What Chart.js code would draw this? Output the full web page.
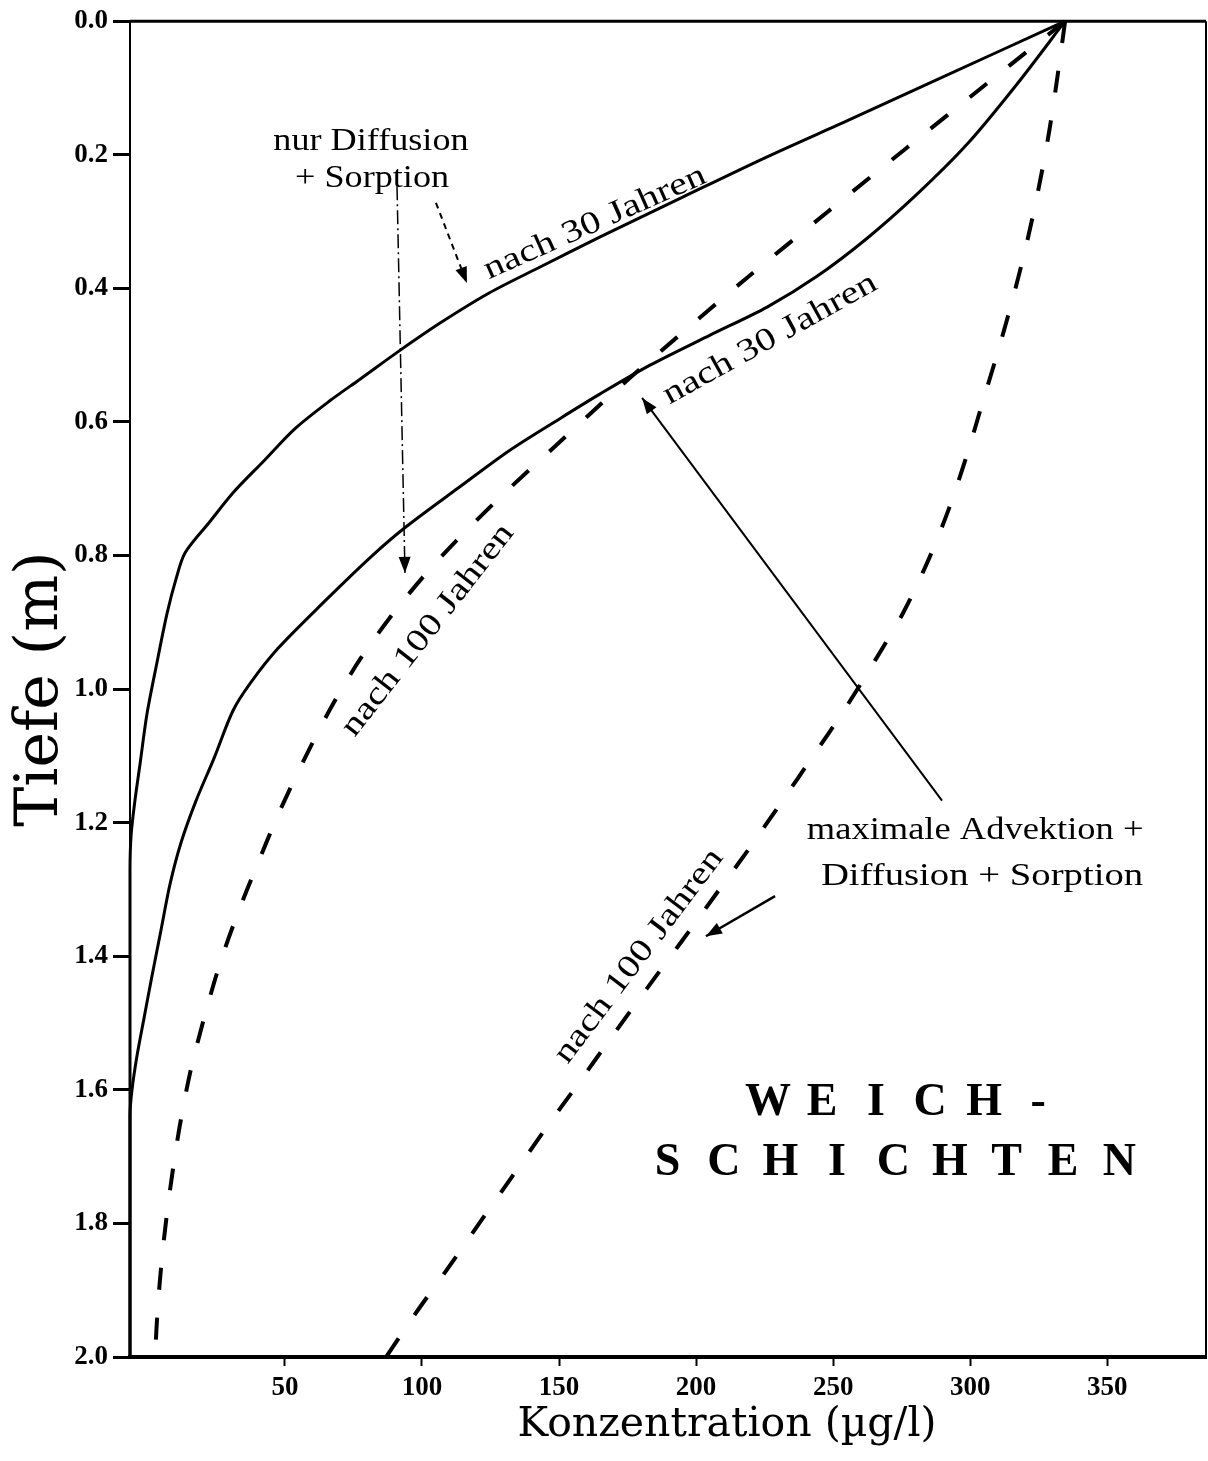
<!DOCTYPE html>
<html>
<head>
<meta charset="utf-8">
<script src="https://cdn.jsdelivr.net/npm/chart.js@4.4.1/dist/chart.umd.min.js"></script>
<style>
  html, body { margin: 0; background: #fff; }
  #wrap { width: 1208px; height: 1461px; position: relative; }
</style>
</head>
<body>
<div id="wrap"><canvas id="profilChart"></canvas></div>
<script>
// Konzentrationsprofile Weichschichten (Tiefe in m, Konzentration in ug/l)
// the drawn left axis of the original sits a little left of 0, so the x range starts at -6.5

// nur Diffusion + Sorption, nach 30 Jahren (durchgezogen, oben)
const diff30Conc  = [334.6, 286.5, 256.2, 225.9, 195.3, 165.0, 143.1, 124.5, 106.6, 91.6, 77.4, 66.5, 53.7, 42.4, 31.1, 22.3, 13.6, 10.3, 7.0, 3.4, -0.3, -2.9, -4.7, -6.1, -6.5, -6.5];
const diff30Depth = [0, 0.090, 0.147, 0.203, 0.263, 0.323, 0.368, 0.407, 0.452, 0.494, 0.536, 0.568, 0.610, 0.658, 0.706, 0.751, 0.796, 0.835, 0.887, 0.959, 1.037, 1.114, 1.167, 1.219, 1.272, 2.0];

// maximale Advektion + Diffusion + Sorption, nach 30 Jahren (durchgezogen, unten)
const adv30Conc  = [334.6, 317.1, 298.9, 280.6, 262.4, 244.1, 225.9, 205.1, 183.2, 165.0, 150.7, 131.8, 113.2, 94.2, 81.4, 63.9, 47.5, 37.6, 31.1, 24.1, 17.6, 12.1, 8.1, 4.8, 1.5, -1.4, -3.9, -5.8, -6.5, -6.5];
const adv30Depth = [0, 0.094, 0.184, 0.259, 0.325, 0.382, 0.428, 0.470, 0.515, 0.558, 0.594, 0.643, 0.699, 0.757, 0.802, 0.871, 0.939, 0.990, 1.032, 1.104, 1.167, 1.230, 1.292, 1.361, 1.430, 1.493, 1.548, 1.601, 1.638, 2.0];

// nur Diffusion + Sorption, nach 100 Jahren (gestrichelt)
const diff100Conc  = [334.6, 306.2, 277.0, 247.8, 218.6, 193.1, 175.9, 161.3, 147.1, 131.8, 116.8, 103.0, 90.2, 77.8, 67.6, 57.7, 48.2, 40.2, 32.5, 26.3, 20.5, 15.4, 11.4, 8.1, 5.5, 3.7, 2.6];
const diff100Depth = [0, 0.093, 0.189, 0.286, 0.384, 0.473, 0.534, 0.588, 0.642, 0.700, 0.760, 0.820, 0.883, 0.953, 1.022, 1.100, 1.182, 1.260, 1.339, 1.411, 1.493, 1.575, 1.660, 1.750, 1.838, 1.922, 2.0];

// maximale Advektion + Diffusion + Sorption, nach 100 Jahren (gestrichelt)
const adv100Conc  = [334.6, 332.1, 328.8, 325.1, 320.8, 316.0, 310.5, 304.7, 298.9, 292.3, 284.6, 275.5, 265.3, 254.4, 242.7, 231.0, 219.3, 206.9, 194.5, 182.1, 169.7, 157.3, 145.3, 133.2, 121.2, 109.5, 97.8, 86.9];
const adv100Depth = [0, 0.075, 0.165, 0.247, 0.329, 0.408, 0.489, 0.568, 0.648, 0.729, 0.808, 0.886, 0.957, 1.029, 1.100, 1.170, 1.239, 1.309, 1.379, 1.448, 1.518, 1.589, 1.657, 1.728, 1.798, 1.867, 1.934, 2.0];

const xTickStep = 50;   // 50 ... 350
const yTickStep = 0.2;  // 0.0 ... 2.0

const serif = '"Liberation Serif", "Times New Roman", serif';
const wide = '"DejaVu Serif", serif';

function curve(label, conc, depth, dashed) {
    return {
        label: label,
        data: conc.map((c, i) => ({ x: c, y: depth[i] })),
        showLine: true,
        borderColor: '#000',
        borderWidth: dashed ? 4 : 3,
        borderDash: dashed ? [22, 28] : [],
        pointRadius: 0,
        tension: 0.3,
        fill: false,
        clip: 6
    };
}

function text(ctx, s, px, py, deg, font, sx) {
    ctx.save();
    ctx.translate(px, py);
    ctx.rotate(deg * Math.PI / 180);
    ctx.scale(sx, 1);
    ctx.font = font;
    ctx.fillStyle = '#000';
    ctx.textAlign = 'center';
    ctx.textBaseline = 'middle';
    ctx.fillText(s, 0, 0);
    ctx.restore();
}

function spaced(ctx, chars, cx, cy, step, font) {
    const start = cx - step * (chars.length - 1) / 2;
    chars.forEach((ch, i) => text(ctx, ch, start + i * step, cy, 0, font, 1));
}

function arrow(ctx, x1, y1, x2, y2, width, dash) {
    ctx.save();
    ctx.strokeStyle = '#000';
    ctx.fillStyle = '#000';
    ctx.lineWidth = width;
    ctx.setLineDash(dash);
    ctx.beginPath();
    ctx.moveTo(x1, y1);
    ctx.lineTo(x2, y2);
    ctx.stroke();
    ctx.setLineDash([]);
    const a = Math.atan2(y2 - y1, x2 - x1);
    ctx.beginPath();
    ctx.moveTo(x2, y2);
    ctx.lineTo(x2 - 16 * Math.cos(a) + 6 * Math.sin(a), y2 - 16 * Math.sin(a) - 6 * Math.cos(a));
    ctx.lineTo(x2 - 16 * Math.cos(a) - 6 * Math.sin(a), y2 - 16 * Math.sin(a) + 6 * Math.cos(a));
    ctx.closePath();
    ctx.fill();
    ctx.restore();
}

// Rahmen oben/rechts, x-Achsentitel, Beschriftungen und Pfeile
const notes = {
    id: 'notes',
    afterDatasetsDraw(chart) {
        const { ctx, chartArea: area, scales: { x, y } } = chart;
        const X = v => x.getPixelForValue(v);
        const Y = v => y.getPixelForValue(v);

        ctx.save();
        ctx.strokeStyle = '#000';
        ctx.lineWidth = 3;
        ctx.beginPath();
        ctx.moveTo(area.left, area.top);
        ctx.lineTo(area.right, area.top);
        ctx.stroke();
        ctx.lineWidth = 2;
        ctx.beginPath();
        ctx.moveTo(area.right, area.top);
        ctx.lineTo(area.right, area.bottom);
        ctx.stroke();
        ctx.restore();

        // x-Achsentitel (im Original nach rechts versetzt)
        text(ctx, 'Konzentration (µg/l)', X(211.3), area.bottom + 68, 0, '41px ' + wide, 1);

        const f = '32px ' + serif;
        text(ctx, 'nur Diffusion', X(81.4), Y(0.18), 0, f, 1.13);
        text(ctx, '+ Sorption', X(81.8), Y(0.236), 0, f, 1.13);
        text(ctx, 'nach 30 Jahren', X(163.1), Y(0.302), -24, f, 1.25);
        text(ctx, 'nach 30 Jahren', X(227), Y(0.476), -29, f, 1.25);
        text(ctx, 'nach 100 Jahren', X(102.2), Y(0.912), -52, f, 1.25);
        text(ctx, 'nach 100 Jahren', X(179.2), Y(1.40), -53, f, 1.25);
        text(ctx, 'maximale Advektion +', X(301.8), Y(1.212), 0, f, 1.14);
        text(ctx, 'Diffusion + Sorption', X(304.3), Y(1.28), 0, f, 1.21);

        const big = 'bold 46px ' + serif;
        spaced(ctx, ['W', 'E', 'I', 'C', 'H', '-'], X(275.5), Y(1.62), 54, big);
        spaced(ctx, ['S', 'C', 'H', 'I', 'C', 'H', 'T', 'E', 'N'], X(272), Y(1.71), 56.5, big);

        arrow(ctx, X(90.9), Y(0.247), X(93.8), Y(0.826), 1.5, [14, 4, 2, 4]);
        arrow(ctx, X(105.1), Y(0.272), X(116.4), Y(0.392), 2, [6, 5]);
        arrow(ctx, X(289.7), Y(1.167), X(180.3), Y(0.564), 2, []);
        arrow(ctx, X(228.8), Y(1.310), X(203.6), Y(1.370), 2.5, []);
    }
};

const ctx = document.getElementById('profilChart').getContext('2d');

new Chart(ctx, {
    type: 'scatter',
    data: {
        datasets: [
            curve('nur Diffusion + Sorption, nach 30 Jahren', diff30Conc, diff30Depth, false),
            curve('maximale Advektion + Diffusion + Sorption, nach 30 Jahren', adv30Conc, adv30Depth, false),
            curve('nur Diffusion + Sorption, nach 100 Jahren', diff100Conc, diff100Depth, true),
            curve('maximale Advektion + Diffusion + Sorption, nach 100 Jahren', adv100Conc, adv100Depth, true)
        ]
    },
    options: {
        responsive: true,
        maintainAspectRatio: false,
        animation: false,
        layout: { padding: { top: 20, right: 2, left: 0, bottom: 0 } },
        plugins: {
            legend: { display: false },
            tooltip: { enabled: false }
        },
        scales: {
            x: {
                type: 'linear',
                min: -6.5,
                max: 386,
                border: { color: '#000', width: 4 },
                grid: {
                    drawOnChartArea: false,
                    tickLength: 9,
                    tickWidth: 2,
                    tickColor: c => c.tick && c.tick.value > 0 ? '#000' : 'rgba(0,0,0,0)'
                },
                ticks: {
                    stepSize: xTickStep,
                    includeBounds: false,
                    autoSkip: false,
                    maxRotation: 0,
                    padding: 6,
                    color: '#000',
                    font: { family: serif, size: 27, weight: 'bold' },
                    callback: v => v <= 0 ? '' : v
                },
                title: { display: false },
                afterFit: s => { s.height = 104; }
            },
            y: {
                type: 'linear',
                reverse: true,
                min: 0,
                max: 2,
                border: { color: '#000', width: 2 },
                grid: { drawOnChartArea: false, color: '#000', tickLength: 17, tickWidth: 3 },
                ticks: {
                    stepSize: yTickStep,
                    autoSkip: false,
                    padding: 5,
                    color: '#000',
                    font: { family: serif, size: 27, weight: 'bold' },
                    callback: v => v.toFixed(1)
                },
                title: {
                    display: true,
                    text: 'Tiefe (m)',
                    color: '#000',
                    font: { family: wide, size: 60 },
                    padding: { top: 5, bottom: 0 }
                },
                afterFit: s => { s.width = 130; }
            }
        }
    },
    plugins: [notes]
});
</script>
</body>
</html>
